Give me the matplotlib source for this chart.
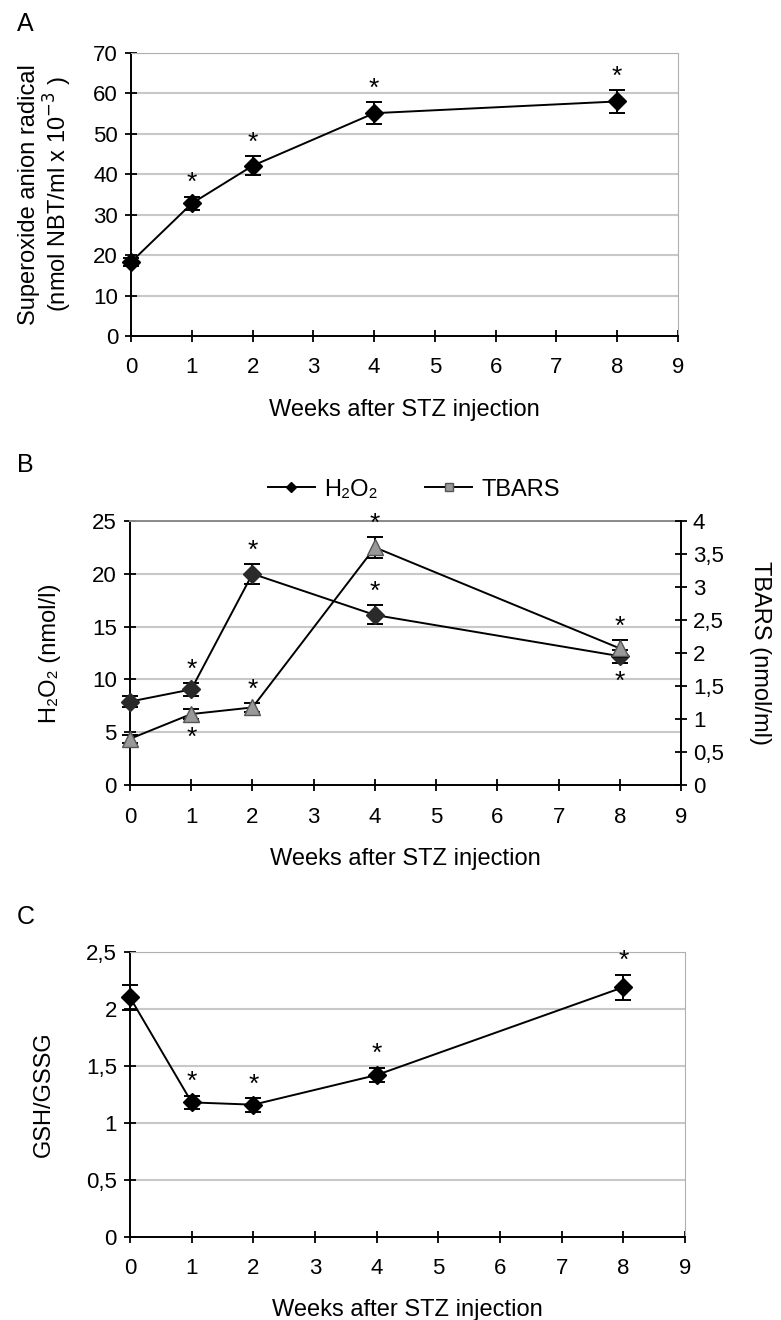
import matplotlib
matplotlib.use("Agg")
import matplotlib.pyplot as plt
from matplotlib.lines import Line2D
from matplotlib.ticker import FuncFormatter

plt.rcParams['font.family'] = ['Liberation Sans', 'DejaVu Sans']

weeks = [0, 1, 2, 4, 8]

# Panel A
superoxide = [18.3, 32.8, 42.1, 55.1, 58.0]
superoxide_err = [1.1, 1.65, 2.3, 2.75, 2.8]
superoxide_sig = [None, 'up', 'up', 'up', 'up']

# Panel B
h2o2 = [7.9, 9.05, 20.0, 16.1, 12.2]
h2o2_err = [0.5, 0.6, 0.95, 0.9, 0.6]
h2o2_sig = [None, 'up', 'up', 'up', 'down']
tbars = [0.70, 1.075, 1.175, 3.6, 2.07]
tbars_err = [0.06, 0.07, 0.07, 0.16, 0.13]
tbars_sig = [None, 'down', 'up', 'up', 'up']

# Panel C
gsh = [2.10, 1.18, 1.16, 1.42, 2.19]
gsh_err = [0.11, 0.06, 0.06, 0.065, 0.11]
gsh_sig = [None, 'up', 'up', 'up', 'up']

xticks = list(range(0, 10))
xlabel = 'Weeks after STZ injection'

fig = plt.figure(figsize=(7.81, 13.2), dpi=100)

GRID = '#c8c8c8'
TICKFS = 16
LABFS = 17


def comma(v, pos=None):
    return ('%g' % v).replace('.', ',')


def style(ax, ymax, ystep):
    ax.set_xlim(0, 9)
    ax.set_ylim(0, ymax)
    ax.set_xticks(xticks)
    yt = [i * ystep for i in range(int(round(ymax / ystep)) + 1)]
    ax.set_yticks(yt)
    ax.yaxis.set_major_formatter(FuncFormatter(comma))
    for y in yt[1:]:
        ax.axhline(y, color=GRID, lw=1.5, zorder=0)
    ax.spines['left'].set_color('black')
    ax.spines['bottom'].set_color('black')
    ax.spines['left'].set_linewidth(1.4)
    ax.spines['bottom'].set_linewidth(1.4)
    ax.spines['top'].set_color('#b0b0b0')
    ax.spines['right'].set_color('#b0b0b0')
    ax.tick_params(axis='both', direction='inout', length=9, width=1.3,
                   labelsize=TICKFS, pad=5)
    ax.tick_params(axis='x', pad=11)
    ax.set_xlabel(xlabel, fontsize=LABFS, labelpad=15)


def stars(ax, xs, ys, errs, sigs, gap=1):
    for x, y, e, s in zip(xs, ys, errs, sigs):
        if s == 'up':
            ax.annotate('*', xy=(x, y + e), xytext=(0, gap), textcoords='offset points',
                        ha='center', va='bottom', fontsize=19, annotation_clip=False)
        elif s == 'down':
            ax.annotate('*', xy=(x, y - e), xytext=(0, -gap - 4), textcoords='offset points',
                        ha='center', va='top', fontsize=19, annotation_clip=False)


# ---------- Panel A ----------
axA = fig.add_axes([0.168, 0.7455, 0.700, 0.2144])
style(axA, 70, 10)
axA.errorbar(weeks, superoxide, yerr=superoxide_err, color='black', lw=1.4,
             marker='D', ms=9, mfc='black', mec='black', capsize=6, capthick=1.4,
             elinewidth=1.4, zorder=3, clip_on=False)
stars(axA, weeks, superoxide, superoxide_err, superoxide_sig)
axA.set_ylabel('Superoxide anion radical\n(nmol NBT/ml x 10$^{-3}$ )', fontsize=LABFS,
               labelpad=14, linespacing=1.05)
fig.text(0.022, 0.982, 'A', fontsize=18, ha='left', va='center')

# ---------- Panel B ----------
axB = fig.add_axes([0.1665, 0.4053, 0.7055, 0.2])
style(axB, 25, 5)
axB.spines['top'].set_color('#8a8a8a')
axB.spines['top'].set_linewidth(1.4)
axB.spines['right'].set_visible(False)
axB2 = axB.twinx()
axB2.set_ylim(0, 4)
axB2.set_yticks([i * 0.5 for i in range(9)])
axB2.yaxis.set_major_formatter(FuncFormatter(comma))
axB2.spines['right'].set_color('black')
axB2.spines['right'].set_linewidth(1.4)
for sp in ['top', 'left', 'bottom']:
    axB2.spines[sp].set_visible(False)
axB2.tick_params(axis='y', direction='inout', length=9, width=1.3, labelsize=TICKFS, pad=4)
axB2.set_ylabel('TBARS (nmol/ml)', fontsize=LABFS, rotation=-90, labelpad=34)

axB.errorbar(weeks, h2o2, yerr=h2o2_err, color='black', lw=1.4,
             marker='D', ms=9, mfc='#2a2a2a', mec='#2a2a2a', capsize=6, capthick=1.4,
             elinewidth=1.4, zorder=3, clip_on=False)
axB2.errorbar(weeks, tbars, yerr=tbars_err, color='black', lw=1.4,
              marker='^', ms=11, mfc='#999999', mec='#555555', capsize=6, capthick=1.4,
              elinewidth=1.4, zorder=3, clip_on=False)
stars(axB, weeks, h2o2, h2o2_err, h2o2_sig)
stars(axB2, weeks, tbars, tbars_err, tbars_sig)
axB.set_ylabel('H\u2082O\u2082 (nmol/l)', fontsize=LABFS, labelpad=22)

handles = [
    Line2D([0], [0], color='black', lw=1.4, marker='D', ms=5, mfc='black', mec='black'),
    Line2D([0], [0], color='black', lw=1.4, marker='s', ms=6, mfc='#999999', mec='#555555'),
]
fig.legend(handles, ['H\u2082O\u2082', 'TBARS'], loc='center', ncol=2,
           bbox_to_anchor=(0.53, 0.629), frameon=False, fontsize=17,
           handlelength=2.0, columnspacing=2.0, handletextpad=0.4)
fig.text(0.022, 0.648, 'B', fontsize=18, ha='left', va='center')

# ---------- Panel C ----------
axC = fig.add_axes([0.1665, 0.0629, 0.7106, 0.216])
style(axC, 2.5, 0.5)
axC.xaxis.labelpad = 14
axC.errorbar(weeks, gsh, yerr=gsh_err, color='black', lw=1.4,
             marker='D', ms=9, mfc='black', mec='black', capsize=6, capthick=1.4,
             elinewidth=1.4, zorder=3, clip_on=False)
stars(axC, weeks, gsh, gsh_err, gsh_sig)
axC.set_ylabel('GSH/GSSG', fontsize=LABFS, labelpad=22)
fig.text(0.022, 0.305, 'C', fontsize=18, ha='left', va='center')

fig.savefig('out.png', dpi=100)
